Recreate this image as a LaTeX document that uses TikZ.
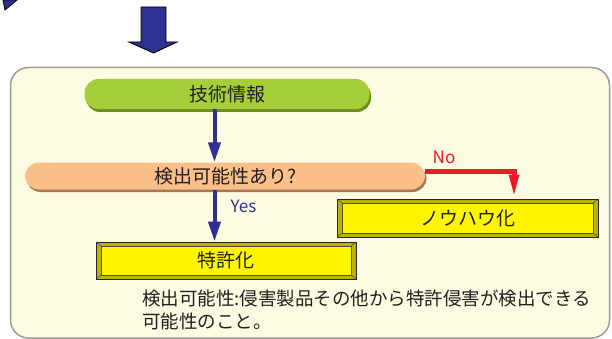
\documentclass[tikz,border=0pt]{standalone}
\usepackage{fontspec}
\setmainfont{Noto Sans CJK JP}
\usetikzlibrary{arrows.meta,shadows,calc}
\definecolor{bgcream}{HTML}{FDFBE1}
\definecolor{framegray}{HTML}{9C9C9C}
\definecolor{greenc}{HTML}{A6CE39}
\definecolor{greensh}{HTML}{6E8C22}
\definecolor{orangec}{HTML}{FBBF8A}
\definecolor{orangesh}{HTML}{A57856}
\definecolor{bluec}{HTML}{2E3192}
\definecolor{redc}{HTML}{ED1C24}
\definecolor{yellowc}{HTML}{FFF500}
\definecolor{yolive}{HTML}{BDB200}
\definecolor{textc}{HTML}{231F20}
\tikzset{
  pill/.style={rectangle, rounded corners=14pt, inner sep=0pt, text=textc,
    font=\fontsize{19pt}{19pt}\selectfont},
  ybox/.style={rectangle, draw=black!85, line width=0.9pt, fill=yolive, inner sep=0pt,
    text=textc, font=\fontsize{19pt}{19pt}\selectfont,
    path picture={
      \fill[yellowc] ($(path picture bounding box.north west)+(5pt,-4pt)$) rectangle
                     ($(path picture bounding box.south east)+(-5pt,4pt)$);
      \draw[black!70, line width=0.5pt] ($(path picture bounding box.north west)+(5pt,-4pt)$) rectangle
                     ($(path picture bounding box.south east)+(-5pt,4pt)$);
      \draw[black!70, line width=0.5pt]
        (path picture bounding box.north west) -- ++(5pt,-4pt)
        (path picture bounding box.south west) -- ++(5pt,4pt)
        (path picture bounding box.north east) -- ++(-5pt,-4pt)
        (path picture bounding box.south east) -- ++(-5pt,4pt);
    }},
  bluearrow/.style={draw=bluec, line width=4pt, -{Triangle[length=20pt,width=12pt]}},
  redarrow/.style={draw=redc, line width=5pt, line join=miter, -{Triangle[length=24pt,width=9pt]}},
  lab/.style={inner sep=0pt, font=\fontsize{17pt}{17pt}\selectfont},
}
\begin{document}
\begin{tikzpicture}[x=1pt,y=-1pt]
\useasboundingbox (0,0) rectangle (612,339);
\fill[white] (0,0) rectangle (612,339);
% partial arrow at top-left
\draw[fill=bluec, draw=black, line width=0.8pt] (3,0) -- (17,0) -- (5,10) -- cycle;
% big down arrow
\draw[fill=bluec, draw=black, line width=0.9pt]
  (141,7) -- (166,7) -- (166,42) -- (177,42) -- (153.5,53) -- (129,42) -- (141,42) -- cycle;
% frame
\draw[fill=bgcream, draw=framegray, line width=1.5pt, rounded corners=18pt]
  (10.5,67.5) rectangle (609.5,338);
% nodes
\node[pill, fill=greenc, minimum width=285pt, minimum height=30pt,
  drop shadow={shadow xshift=1.5pt, shadow yshift=-3pt, fill=greensh, opacity=1}]
  (info) at (227,94) {技術情報};
\coordinate (rs) at (0,171.5);
\coordinate (rx) at (514,0);
\coordinate (ax) at (214.5,0);
\node[ybox, minimum width=261pt, minimum height=38pt] (know) at (467.5,218) {ノウハウ化};
\node[ybox, minimum width=260pt, minimum height=37pt] (pat) at (226,260.5) {特許化};
\node[pill, fill=orangec, minimum width=400pt, minimum height=27pt,
  drop shadow={shadow xshift=1.5pt, shadow yshift=-2.5pt, fill=orangesh, opacity=1}]
  (q) at (225,176) {検出可能性あり?};
\draw[redarrow] (q.east |- rs) -| (know.north -| rx);
\draw[bluearrow] (info.south -| ax) -- (q.north -| ax);
\draw[bluearrow] (q.south -| ax) -- (pat.north -| ax);
\node[lab, text=redc] (no) at (444,157) {No};
\node[lab, text=bluec] (yes) at (243.5,206) {Yes};
\node[anchor=north west, align=left, inner sep=0pt, text=textc,
  font=\fontsize{18.5pt}{23pt}\selectfont] (note) at (142,290)
  {検出可能性:侵害製品その他から特許侵害が検出できる\\可能性のこと。};
\end{tikzpicture}
\end{document}
